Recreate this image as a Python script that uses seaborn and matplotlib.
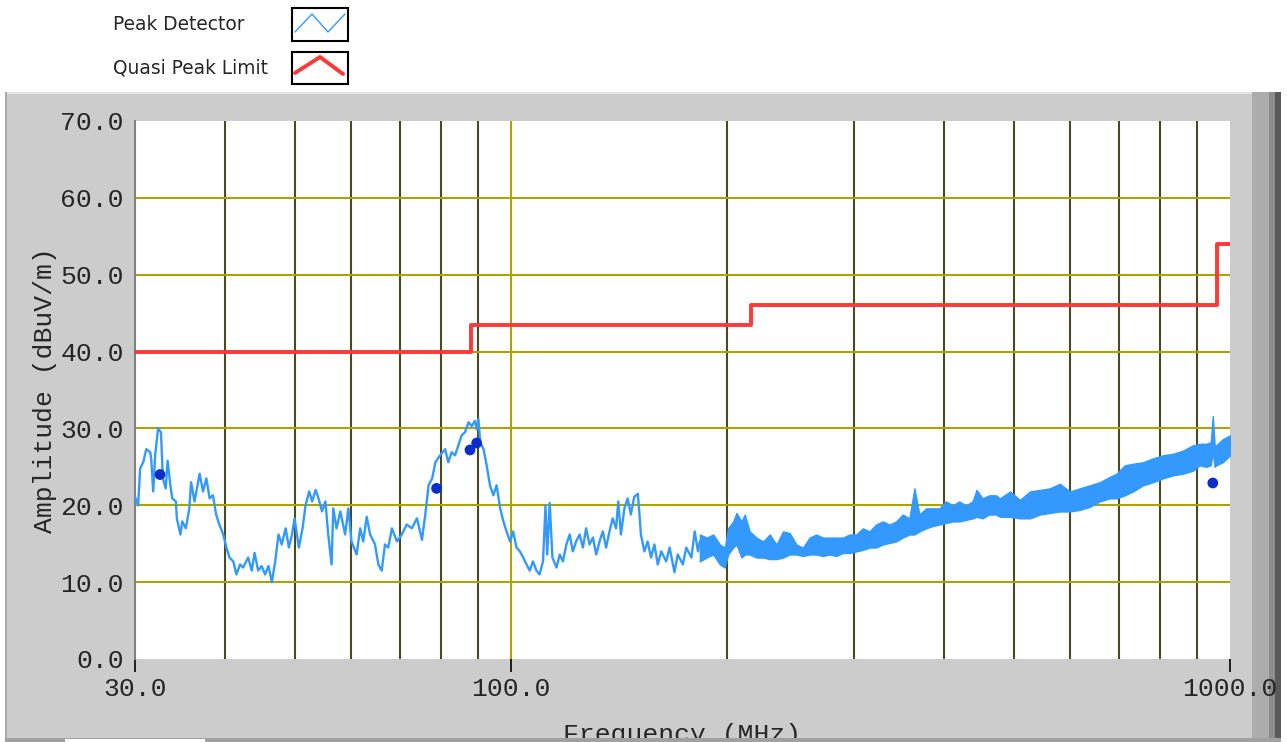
import matplotlib
matplotlib.use('Agg')
import matplotlib.pyplot as plt
from matplotlib.patches import Rectangle
from matplotlib.lines import Line2D
from matplotlib.ticker import NullLocator
import seaborn as sns

# peak detector sweep, 30 - 183 MHz (dBuV/m)
trace_freq = [30.0, 30.3, 30.5, 30.8, 31.1, 31.5, 31.6, 31.8, 32.0, 32.3, 32.6, 32.8, 33.1, 33.3, 33.6,
              33.8, 34.2, 34.3, 34.7, 34.9, 35.3, 35.7, 35.9, 36.3, 36.9, 37.3, 37.7, 38.1, 38.5, 38.9,
              39.3, 39.8, 40.2, 40.6, 41.1, 41.5, 42.0, 42.4, 43.1, 43.6, 44.0, 44.5, 45.0, 45.5, 46.0,
              46.5, 47.0, 47.5, 48.0, 48.6, 49.1, 49.6, 50.0, 50.7, 51.3, 51.8, 52.4, 52.9, 53.5, 54.0,
              54.6, 55.2, 55.7, 56.3, 56.6, 57.2, 57.9, 58.8, 59.4, 60.0, 61.0, 61.7, 62.3, 63.0, 63.7,
              64.7, 65.4, 66.1, 66.8, 67.5, 68.3, 69.4, 70.5, 71.6, 72.8, 74.0, 75.2, 76.0, 76.8, 77.7,
              78.5, 79.7, 81.0, 81.8, 82.7, 83.6, 84.5, 85.4, 86.3, 87.3, 88.2, 89.1, 89.6, 90.1, 90.6,
              91.6, 92.5, 93.5, 94.5, 95.5, 96.6, 97.6, 98.6, 99.7, 100.7, 101.8, 102.9, 104.0, 105.1, 106.2,
              107.3, 108.5, 109.6, 110.8, 111.7, 112.3, 113.2, 114.2, 115.7, 116.9, 118.1, 119.4, 120.7, 121.9, 123.2,
              124.6, 125.9, 127.2, 128.6, 130.0, 131.4, 132.8, 134.2, 135.6, 137.1, 138.5, 140.0, 141.0, 142.2, 143.8,
              145.3, 146.8, 148.4, 150.1, 150.8, 151.6, 153.3, 154.9, 156.6, 158.3, 160.0, 161.8, 164.4, 166.2, 168.8,
              170.6, 173.4, 175.3, 178.2, 180.1, 182.0, 183.1]
trace_amp = [21.1, 20.0, 24.8, 25.6, 27.3, 26.9, 26.0, 21.8, 26.5, 30.0, 29.5, 23.5, 22.2, 25.8, 22.6,
             20.9, 20.5, 18.3, 16.2, 17.9, 17.0, 19.6, 23.0, 20.5, 24.1, 21.8, 23.5, 20.9, 21.3, 18.8,
             17.5, 16.2, 14.5, 13.2, 12.7, 11.0, 12.3, 11.9, 13.2, 11.5, 13.8, 11.5, 12.1, 11.0, 12.1,
             10.0, 12.7, 16.2, 14.9, 17.0, 14.5, 16.2, 18.3, 14.5, 17.0, 20.0, 21.8, 20.5, 22.0, 20.9,
             19.2, 20.5, 16.2, 12.3, 19.6, 17.0, 19.2, 16.2, 19.6, 15.3, 13.6, 17.0, 15.3, 18.5, 16.2,
             14.9, 12.3, 11.5, 14.9, 14.5, 17.0, 15.3, 16.2, 17.5, 17.0, 18.3, 15.5, 18.8, 22.6, 23.5,
             25.6, 26.5, 27.3, 25.6, 26.9, 26.5, 27.8, 29.1, 29.5, 30.8, 30.3, 31.0, 29.9, 31.2, 28.2,
             27.3, 25.2, 22.6, 21.3, 22.6, 19.6, 17.9, 16.6, 15.3, 16.6, 14.5, 14.0, 13.2, 12.3, 11.5,
             12.7, 11.5, 11.0, 12.7, 20.0, 13.6, 20.3, 13.2, 11.9, 13.6, 12.7, 14.9, 16.2, 14.0, 15.3,
             16.2, 14.5, 17.0, 14.9, 15.8, 13.6, 15.3, 16.6, 14.5, 16.6, 18.3, 17.0, 20.5, 16.2, 19.6,
             20.9, 18.8, 21.1, 21.5, 19.2, 16.2, 14.0, 15.3, 13.2, 14.9, 12.3, 14.0, 12.7, 14.5, 11.3,
             13.6, 12.3, 14.5, 13.2, 16.6, 14.0, 15.3]

# peak detector sweep, 183 - 1000 MHz: noise band envelope
band_freq = [183.1, 187.1, 191.1, 195.2, 198.3, 200.4, 203.7, 205.9, 209.2, 211.4, 214.8, 219.5, 224.2, 229.0,
             234.0, 239.0, 244.1, 249.4, 254.7, 260.2, 265.9, 271.5, 277.4, 283.4, 289.5, 295.7, 302.1, 308.6,
             315.2, 322.0, 328.9, 336.0, 343.3, 350.6, 358.2, 364.0, 369.8, 377.8, 385.9, 394.2, 402.8, 411.3,
             420.2, 429.3, 438.5, 444.1, 452.7, 462.5, 472.5, 478.7, 494.3, 510.3, 526.9, 544.0, 561.6, 579.9,
             598.8, 618.1, 638.3, 659.0, 680.4, 695.1, 713.7, 733.0, 756.8, 781.3, 806.7, 832.8, 859.9, 887.8,
             907.0, 926.6, 940.0, 946.4, 952.0, 956.7, 977.1, 1000.0]
band_hi = [16.2, 15.8, 16.2, 14.9, 14.5, 17.0, 17.9, 19.0, 17.9, 18.8, 16.6, 15.8, 15.3, 16.2,
           14.9, 16.6, 16.4, 14.9, 14.5, 15.8, 16.2, 15.8, 15.8, 15.8, 15.8, 16.2, 16.2, 17.0,
           16.6, 17.5, 17.9, 17.5, 17.9, 18.8, 18.3, 22.2, 18.8, 19.6, 19.6, 19.6, 20.5, 20.0,
           20.5, 20.0, 20.5, 22.0, 20.9, 21.3, 21.3, 20.9, 21.8, 20.7, 21.8, 22.0, 22.2, 22.8,
           21.8, 22.2, 22.6, 23.0, 23.7, 24.1, 25.2, 25.4, 25.6, 26.1, 26.5, 26.7, 27.1, 27.8,
           28.0, 28.0, 28.2, 31.6, 27.8, 27.8, 28.6, 29.1]
band_lo = [12.7, 13.2, 13.6, 12.3, 11.9, 13.6, 14.5, 14.9, 13.2, 13.6, 13.6, 13.2, 13.2, 13.0,
           13.0, 13.2, 13.6, 13.6, 13.4, 13.6, 13.6, 13.4, 13.6, 13.4, 13.8, 13.8, 14.0, 14.2,
           14.5, 14.5, 14.9, 15.1, 15.3, 15.8, 16.2, 16.2, 16.6, 17.0, 17.3, 17.5, 17.7, 17.9,
           17.9, 18.1, 18.3, 18.5, 18.3, 18.8, 18.8, 18.5, 18.5, 18.3, 18.3, 18.8, 19.0, 19.2,
           19.2, 19.4, 19.8, 20.5, 20.9, 20.9, 21.3, 21.8, 22.6, 23.0, 23.5, 23.9, 24.1, 24.5,
           25.2, 25.0, 25.2, 26.9, 25.0, 25.2, 25.6, 26.5]

# quasi peak limit
limit_freq = [30, 88, 216, 960, 1000]
limit_amp = [40, 43.5, 46, 54, 54]

# quasi peak readings
qp_freq = [32.5, 78.8, 87.7, 89.6, 946.4]
qp_amp = [24.0, 22.2, 27.2, 28.1, 22.9]

x_ticks = [30, 100, 1000]
x_labels = ['30.0', '100.0', '1000.0']
y_ticks = [0, 10, 20, 30, 40, 50, 60, 70]
x_grid_dark = [40, 50, 60, 70, 80, 90, 200, 300, 400, 500, 600, 700, 800, 900]
x_grid_light = [100]
y_grid = [10, 20, 30, 40, 50, 60]

W, H = 1287, 742
sns.set_style('white')
plt.rcParams['font.family'] = ['Liberation Mono', 'DejaVu Sans']

fig = plt.figure(figsize=(W / 100, H / 100), dpi=100)
fig.patch.set_facecolor('white')


def fx(x):
    return x / W


def fy(y):
    return 1 - y / H


def box(x0, y0, x1, y1, color, z=-1, edgecolor='none', **kw):
    fig.add_artist(Rectangle((fx(x0), fy(y1)), fx(x1 - x0), (y1 - y0) / H,
                             transform=fig.transFigure, facecolor=color,
                             edgecolor=edgecolor, zorder=z, **kw))


# grey front panel with the bevelled right edge
box(5, 92, 1281, 742, '#cccccc', z=-3)
box(5, 92, 1281, 94, '#e4e4e4', z=-2)
box(5, 92, 7, 742, '#a8a8a8', z=-2)
box(1252, 92, 1281, 742, '#acacac', z=-2)
box(1269, 92, 1281, 742, '#8c8c8c', z=-1.5)
box(1275, 92, 1281, 742, '#5a5a5a', z=-1)

ax = fig.add_axes([fx(135), fy(659), fx(1230 - 135), (659 - 121) / H])
ax.set_facecolor('white')
ax.set_xscale('log')

for f in x_grid_dark:
    ax.axvline(f, color='#4a4a22', lw=1.5, zorder=1)
for f in x_grid_light:
    ax.axvline(f, color='#aaa400', lw=1.5, zorder=1)
for a in y_grid:
    ax.axhline(a, color='#aaa400', lw=1.5, zorder=1)

ax.fill_between(band_freq, band_lo, band_hi, color='#3399ff', lw=1.0, zorder=3)
sns.lineplot(x=trace_freq, y=trace_amp, ax=ax, color='#3399ff', lw=1.7,
             sort=False, estimator=None, zorder=3)
sns.lineplot(x=limit_freq, y=limit_amp, ax=ax, color='#ff3838', lw=2.8,
             drawstyle='steps-post', estimator=None, zorder=4)
sns.scatterplot(x=qp_freq, y=qp_amp, ax=ax, color='#0a2ecc', s=60,
                edgecolor='none', zorder=5)

ax.set_xlim(30, 1000)
ax.set_ylim(0, 70)
ax.set_xticks(x_ticks)
ax.set_xticklabels(x_labels)
ax.xaxis.set_minor_locator(NullLocator())
ax.set_yticks(y_ticks)
ax.set_yticklabels([f'{v:.1f}' for v in y_ticks])
ax.tick_params(axis='x', length=9, width=1.2, color='black', pad=4, labelsize=19, bottom=True)
ax.tick_params(axis='y', length=0, pad=8, labelsize=19)
for s in ['top', 'right', 'bottom']:
    ax.spines[s].set_visible(False)
ax.spines['left'].set_color('#808080')
ax.spines['left'].set_linewidth(1.5)
ax.set_xlabel('')
ax.set_ylabel('')

fig.text(fx(45), fy(390), 'Amplitude (dBuV/m)', rotation=90, ha='center', va='center', fontsize=19)
fig.text(fx(682), fy(742), 'Frequency (MHz)', ha='center', va='baseline', fontsize=19)

# bottom edge of the panel
box(5, 738, 1281, 742, '#a0a0a0', z=5)
box(65, 739, 205, 742, 'white', z=6)

# legend
fig.text(fx(113), fy(25), 'Peak Detector', family='DejaVu Sans', fontsize=13.4, va='center')
fig.text(fx(113), fy(68), 'Quasi Peak Limit', family='DejaVu Sans', fontsize=13.4, va='center')
box(292, 8, 348, 41, 'white', z=2, edgecolor='black', lw=1.5)
box(292, 52, 348, 84, 'white', z=2, edgecolor='black', lw=1.5)
fig.add_artist(Line2D([fx(295), fx(312), fx(328), fx(345)], [fy(32), fy(14), fy(32), fy(14)],
                      transform=fig.transFigure, color='#3399ff', lw=1, zorder=3))
fig.add_artist(Line2D([fx(295), fx(320), fx(343)], [fy(73), fy(57), fy(74)],
                      transform=fig.transFigure, color='#ff3838', lw=2.8, zorder=3))

fig.savefig('out.png', dpi=100)
